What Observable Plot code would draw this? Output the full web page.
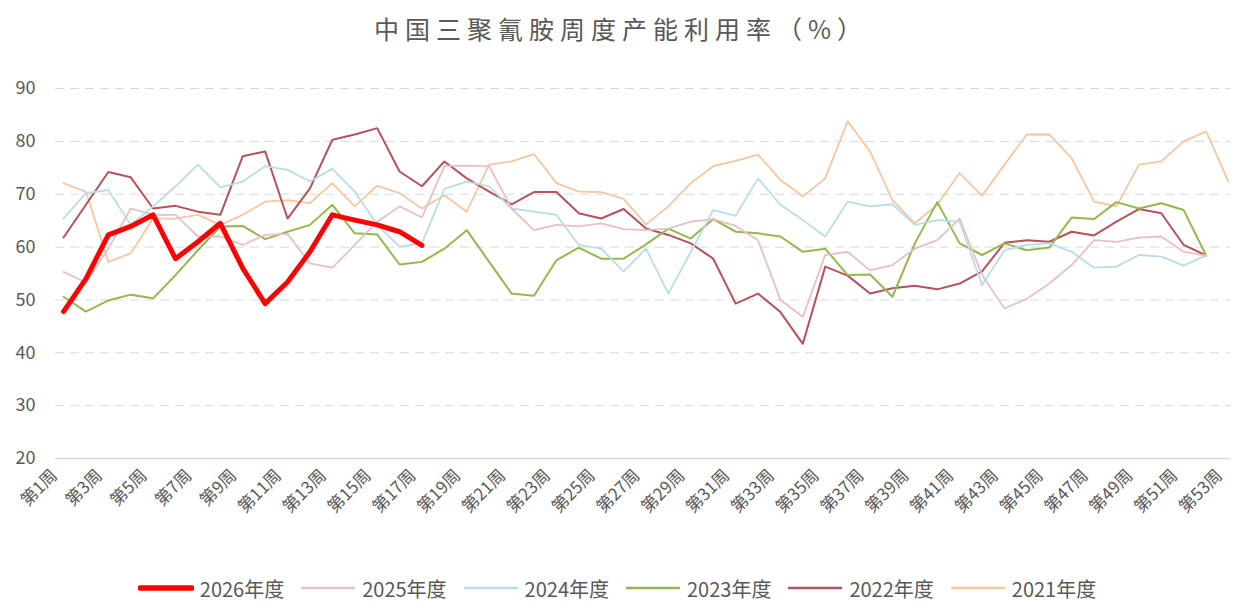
<!DOCTYPE html>
<html><head><meta charset="utf-8">
<script src="https://cdn.jsdelivr.net/npm/d3@7"></script>
<script src="https://cdn.jsdelivr.net/npm/@observablehq/plot@0.6"></script>
<style>
body{margin:0;background:#fff;font-family:"Noto Sans CJK SC","Noto Sans",sans-serif;}
#wrap{width:1234px;height:604px;position:relative;overflow:hidden;background:#fff}
#title{position:absolute;left:0;top:11px;width:1234px;text-align:center;font-size:25px;letter-spacing:6px;color:#595959;line-height:34px;padding-left:8px;box-sizing:border-box}
#chart{position:absolute;left:0;top:50px}
#legend{position:absolute;left:0;top:572px;width:1234px;height:32px;display:flex;justify-content:center;align-items:center;font-size:20px;color:#595959}
.item{display:flex;align-items:center;margin:0 8px}
.item svg{margin-right:6px}
</style></head>
<body><div id="wrap"><div id="title">中国三聚氰胺周度产能利用率（%）</div><div id="chart"></div><div id="legend"></div></div>
<script>
const weeks = d3.range(1, 54);
const weekTicks = weeks.filter(w => w % 2 === 1);
const yTicks = [20, 30, 40, 50, 60, 70, 80, 90];
const seriesNames = ["2026年度", "2025年度", "2024年度", "2023年度", "2022年度", "2021年度"];
const seriesColors = ["#ff0000", "#e8c0c4", "#b9dde6", "#93b84f", "#b5525a", "#f7c6a0"];
const seriesWidths = [5, 1.8, 1.8, 2, 2, 1.8];

const y2026 = [47.8, 54, 62.3, 63.9, 66.1, 57.8, 61, 64.5, 56, 49.3, 53.4, 59.1, 66.1, 65.1, 64.2, 62.9, 60.3];
const y2025 = [55.3, 53.3, 59.7, 67.3, 66.1, 66.1, 62, 62, 60.4, 62.3, 62.5, 56.9, 56.1, 60.4, 64.8, 67.7, 65.6, 75.3, 75.4, 75.3, 67.3, 63.2, 64.2, 63.9, 64.5, 63.4, 63.2, 63.5, 64.8, 65.3, 64, 61.3, 50, 46.8, 58.5, 59.1, 55.6, 56.6, 59.7, 61.3, 65.4, 54.7, 48.4, 50.2, 53.1, 56.6, 61.3, 61, 61.8, 62, 59.1, 58.4];
const y2024 = [65.4, 70.2, 70.8, 64.2, 67.7, 71.5, 75.6, 71.3, 72.4, 75.3, 74.6, 72.4, 74.8, 70.5, 64.2, 60.1, 60.7, 71, 72.4, 71.5, 67.3, 66.7, 66.1, 60.4, 59.7, 55.4, 59.7, 51.2, 59.1, 67, 65.9, 73, 68, 65.1, 62, 68.6, 67.7, 68.1, 64.2, 65.1, 64.8, 52.8, 59.4, 60.4, 60.7, 59.1, 56.1, 56.3, 58.5, 58.2, 56.5, 58.4];
const y2023 = [50.6, 47.8, 49.9, 51, 50.3, 54.7, 59.4, 63.9, 64, 61.5, 62.9, 64.2, 68, 62.6, 62.4, 56.7, 57.2, 59.7, 63.2, 57.2, 51.2, 50.8, 57.5, 59.9, 57.8, 57.8, 60.5, 63.5, 61.6, 65.3, 62.9, 62.6, 62, 59.1, 59.7, 54.7, 54.8, 50.6, 60.7, 68.5, 60.7, 58.5, 60.7, 59.4, 59.9, 65.6, 65.3, 68.5, 67.3, 68.3, 67, 58.4];
const y2022 = [61.8, 68, 74.2, 73.2, 67.3, 67.8, 66.7, 66.1, 77.2, 78.1, 65.4, 71.1, 80.3, 81.3, 82.5, 74.3, 71.5, 76.2, 73, 70.5, 68.1, 70.4, 70.4, 66.4, 65.4, 67.2, 63.5, 62.3, 60.7, 57.8, 49.3, 51.2, 47.7, 41.7, 56.3, 54.6, 51.2, 52.2, 52.7, 52, 53.1, 55.4, 60.8, 61.3, 61, 62.9, 62.2, 64.8, 67.2, 66.4, 60.4, 58.4];
const y2021 = [72.1, 70.5, 57.2, 58.8, 65.4, 65.4, 66.1, 64.2, 66.1, 68.6, 68.9, 68.3, 72.1, 67.7, 71.6, 70.2, 67.3, 69.8, 66.7, 75.6, 76.2, 77.6, 72.1, 70.5, 70.4, 69.1, 64.3, 67.7, 72.1, 75.3, 76.3, 77.5, 72.7, 69.6, 73, 83.8, 78.1, 68.9, 64.5, 68, 74, 69.7, 75.6, 81.3, 81.3, 76.8, 68.6, 67.7, 75.6, 76.2, 80, 81.9, 72.4];

const seriesValues = [y2026, y2025, y2024, y2023, y2022, y2021];
const toRows = (vals) => vals.map((v, i) => ({week: weeks[i], value: v}));

const lineMarks = [];
for (let k = seriesValues.length - 1; k >= 0; k--) {
  lineMarks.push(Plot.line(toRows(seriesValues[k]), {
    x: "week", y: "value", stroke: seriesColors[k], strokeWidth: seriesWidths[k],
    strokeLinejoin: "round", strokeLinecap: "round"
  }));
}

const chart = Plot.plot({
  width: 1234, height: 520,
  marginLeft: 55, marginRight: 4, marginTop: 38, marginBottom: 112,
  style: {fontFamily: '"Noto Sans CJK SC","Noto Sans",sans-serif', color: "#595959", background: "transparent"},
  x: {type: "linear", domain: [1, 53], range: [63, 1228], label: null},
  y: {domain: [20, 90], label: null},
  marks: [
    Plot.ruleY(yTicks.filter(t => t > 20), {stroke: "#d9d9d9", strokeWidth: 1, strokeDasharray: "9,6"}),
    Plot.ruleY([20], {stroke: "#d9d9d9", strokeWidth: 1.5}),
    Plot.axisY({ticks: yTicks, tickSize: 0, tickPadding: 20, fontSize: 18, fill: "#595959", label: null}),
    Plot.axisX({ticks: weekTicks, tickFormat: d => `第${d}周`, tickRotate: -45, tickSize: 0, tickPadding: 14, dx: -9, fontSize: 17, fill: "#595959", label: null}),
    ...lineMarks
  ]
});
document.getElementById("chart").appendChild(chart);

const legend = document.getElementById("legend");
seriesNames.forEach((name, k) => {
  const item = document.createElement("div");
  item.className = "item";
  item.innerHTML = `<svg width="56" height="10"><line x1="2" y1="5" x2="54" y2="5" stroke="${seriesColors[k]}" stroke-width="${seriesWidths[k] + 0.5}" stroke-linecap="round"/></svg><span>${name}</span>`;
  legend.appendChild(item);
});
</script></body></html>
